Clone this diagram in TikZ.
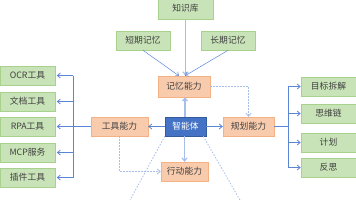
\documentclass[tikz,border=0pt]{standalone}
\usepackage{fontspec}
\setmainfont{Noto Sans CJK SC}
\usetikzlibrary{arrows.meta,calc}
\definecolor{gfill}{HTML}{C9E3B8}
\definecolor{gline}{HTML}{A9D18E}
\definecolor{ofill}{HTML}{F8CBAD}
\definecolor{oline}{HTML}{F4B183}
\definecolor{bfill}{HTML}{4472C4}
\definecolor{lnc}{HTML}{5B86D6}
\definecolor{lnl}{HTML}{A7BDEA}
\definecolor{txt}{HTML}{404040}
\begin{document}
\begin{tikzpicture}[x=1bp,y=-1bp,
  font=\fontsize{8.8}{10}\selectfont,
  gbox/.style={draw=gline,fill=gfill,line width=0.6bp,text=txt,minimum height=19bp,inner sep=0pt},
  obox/.style={draw=oline,fill=ofill,line width=0.4bp,text=txt,minimum height=19bp,inner sep=0pt},
  bbox/.style={draw=bfill!80!black,fill=bfill,text=white,minimum height=19bp,minimum width=41bp,inner sep=0pt},
  arr/.style={draw=lnc,line width=0.8bp,-{Straight Barb[length=3bp,width=5bp]}},
  larr/.style={draw=lnl,line width=1.2bp,-{Straight Barb[length=3bp,width=5bp]}},
  darr/.style={draw=lnl,line width=0.8bp,dash pattern=on 1.5bp off 1.5bp,-{Straight Barb[length=3bp,width=5bp]}},
  dline/.style={draw=lnl,line width=0.8bp,dash pattern=on 1.5bp off 1.5bp}]
\useasboundingbox (0,0) rectangle (356,200);
% top
\node[gbox,minimum width=55bp,minimum height=21bp] (kb) at (185.5,8.5) {知识库};
\node[gbox,minimum width=54bp] (stm) at (143,40.5) {短期记忆};
\node[gbox,minimum width=54bp] (ltm) at (228,40.5) {长期记忆};
\node[obox,minimum width=52bp,minimum height=21bp] (mem) at (184,86.5) {记忆能力};
% middle
\node[bbox] (agent) at (185.5,126.5) {智能体};
\node[obox,minimum width=57bp] (tool) at (119.5,126.5) {工具能力};
\node[obox,minimum width=51bp] (plan) at (248.5,126.5) {规划能力};
\node[obox,minimum width=47bp] (act) at (184.5,171.5) {行动能力};
% left column
\node[gbox,minimum width=55bp] (ocr) at (27.5,75.5) {OCR工具};
\node[gbox,minimum width=55bp] (doc) at (27.5,101.5) {文档工具};
\node[gbox,minimum width=55bp] (rpa) at (27.5,126.5) {RPA工具};
\node[gbox,minimum width=55bp] (mcp) at (27.5,152.5) {MCP服务};
\node[gbox,minimum width=55bp] (plug) at (27.5,177.5) {插件工具};
% right column
\node[gbox,minimum width=55bp] (goal) at (328.5,86.5) {目标拆解};
\node[gbox,minimum width=55bp] (cot) at (328.5,113.5) {思维链};
\node[gbox,minimum width=55bp] (pl) at (328.5,142.5) {计划};
\node[gbox,minimum width=55bp] (refl) at (328.5,167.5) {反思};
% bus coordinates
\coordinate (lb) at (73,126.5);
\coordinate (rb) at (288,126.5);
\coordinate (dl) at (130,200);
\coordinate (dr) at (240,200);
% memory inputs
\draw[larr] (kb.south) -- (kb.south |- mem.north);
\draw[arr,line width=0.5bp] (stm.south) -- ($(mem.north)+(-5,0)$);
\draw[arr,line width=0.5bp] (ltm.south) -- ($(mem.north)+(1,0)$);
% agent outputs
\draw[larr] (agent.north -| mem.south) ++(1,0) -- ($(mem.south)+(1,0)$);
\draw[arr] (agent.west) -- (tool.east);
\draw[arr] (agent.east) -- (plan.west);
\draw[larr] (agent.south -| act.north) -- (act.north);
% tools bus
\draw[draw=lnc,line width=0.8bp] (tool.west) -- (lb);
\draw[draw=lnc,line width=0.8bp] (lb |- ocr.east) -- (lb |- plug.east);
\foreach \n in {ocr,doc,rpa,mcp,plug} \draw[arr] (lb |- \n.east) -- ($(\n.east)+(1.5,0)$);
% planning bus
\draw[draw=lnc,line width=0.8bp] (plan.east) -- (rb);
\draw[draw=lnc,line width=0.8bp] (rb |- goal.west) -- (rb |- refl.west);
\foreach \n in {goal,cot,pl,refl} \draw[arr] (rb |- \n.west) -- (\n.west);
% dotted links
\draw[darr] (mem.east) -| (plan.north);
\draw[darr] (tool.south) |- (act.west);
\draw[dline] (agent.south west) -- (dl);
\draw[dline] ($(agent.south east)+(-3,0)$) -- (dr);
\end{tikzpicture}
\end{document}
